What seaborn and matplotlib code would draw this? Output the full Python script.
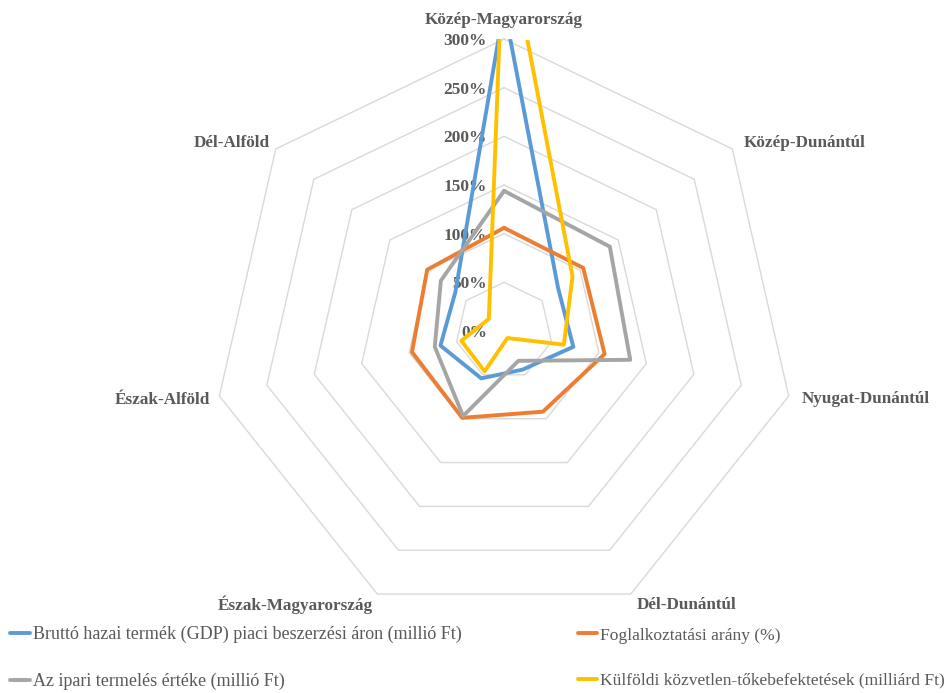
import numpy as np
import pandas as pd
import matplotlib
matplotlib.use("Agg")
import matplotlib.pyplot as plt
import seaborn as sns
from matplotlib.lines import Line2D

# Regions (clockwise from the top)
categories = ["Közép-Magyarország", "Közép-Dunántúl", "Nyugat-Dunántúl",
              "Dél-Dunántúl", "Észak-Magyarország", "Észak-Alföld", "Dél-Alföld"]

series_names = [
    "Bruttó hazai termék (GDP) piaci beszerzési áron (millió Ft)",
    "Foglalkoztatási arány (%)",
    "Az ipari termelés értéke (millió Ft)",
    "Külföldi közvetlen-tőkebefektetések (milliárd Ft)",
]

# Values relative to the national average, in percent
gdp = [333, 71, 73, 44, 54, 67, 64]
employment = [106, 104, 106, 92, 99, 97, 101]
industry = [144, 139, 133, 34, 97, 73, 83]
fdi = [425, 90, 63, 8, 46, 45, 20]

tick_values = [0, 50, 100, 150, 200, 250, 300]
tick_labels = ["0%", "50%", "100%", "150%", "200%", "250%", "300%"]

colors = ["#5B9BD5", "#ED7D31", "#A5A5A5", "#FFC000"]
grid_color = "#D9D9D9"
text_color = "#595959"

sns.set_theme(style="white")
plt.rcParams["font.family"] = ["Liberation Serif", "DejaVu Serif"]

n = len(categories)
theta = np.arange(n) * 2 * np.pi / n
theta_closed = np.append(theta, 2 * np.pi)

rows = []
for name, vals in zip(series_names, [gdp, employment, industry, fdi]):
    v = np.asarray(vals, dtype=float) / 100.0
    for t, val in zip(theta_closed, np.append(v, v[0])):
        rows.append({"series": name, "theta": t, "value": val})
df = pd.DataFrame(rows)

fig = plt.figure(figsize=(9.53, 6.93), dpi=100)
ax = fig.add_axes([0.2225, 0.101, 0.6128, 0.8427], projection="polar")
ax.set_theta_zero_location("N")
ax.set_theta_direction(-1)

# Heptagonal gridlines
for r in tick_values[1:]:
    ax.plot(theta_closed, [r / 100.0] * (n + 1), color=grid_color, lw=1.0,
            zorder=1, clip_on=False)

sns.lineplot(data=df, x="theta", y="value", hue="series", hue_order=series_names,
             palette=colors, sort=False, estimator=None, lw=2.8, ax=ax, zorder=3)

ax.set_ylim(0, 3)
ax.grid(False)
ax.spines["polar"].set_visible(False)
ax.set_xticks([])
ax.set_yticks([])
ax.set_xlabel("")
ax.set_ylabel("")
if ax.get_legend() is not None:
    ax.get_legend().remove()

# Radial value labels along the top axis
for v, lab in zip(tick_values, tick_labels):
    ax.annotate(lab, xy=(0, v / 100.0), xytext=(-17, -2), textcoords="offset pixels",
                ha="right", va="center", fontsize=12.5, fontweight="bold",
                color=text_color, annotation_clip=False, zorder=2)

# Category labels around the outer ring
label_offsets = [(0, 19, "center"), (11, 6, "left"), (13, -3, "left"),
                 (6, -11, "left"), (-5, -11, "right"), (-9, -4, "right"),
                 (-6, 6, "right")]
for t, cat, (dx, dy, ha) in zip(theta, categories, label_offsets):
    ax.annotate(cat, xy=(t, 3.0), xytext=(dx, dy), textcoords="offset pixels",
                ha=ha, va="center", fontsize=12.3, fontweight="bold",
                color=text_color, annotation_clip=False)

# Two-column legend at the bottom
handles = [Line2D([0], [0], color=c, lw=2.8) for c in colors]
legend_kw = dict(loc="center left", frameon=False, handlelength=1.1,
                 handletextpad=0.15, labelspacing=1.65, borderpad=0,
                 borderaxespad=0, labelcolor=text_color)
fig.legend([handles[0], handles[2]], [series_names[0], series_names[2]],
           bbox_to_anchor=(10 / 953, 35 / 693), fontsize=13.0, **legend_kw)
fig.legend([handles[1], handles[3]], [series_names[1], series_names[3]],
           bbox_to_anchor=(578 / 953, 35 / 693), fontsize=12.6, **legend_kw)

fig.savefig("out.png", dpi=100, facecolor="white")
